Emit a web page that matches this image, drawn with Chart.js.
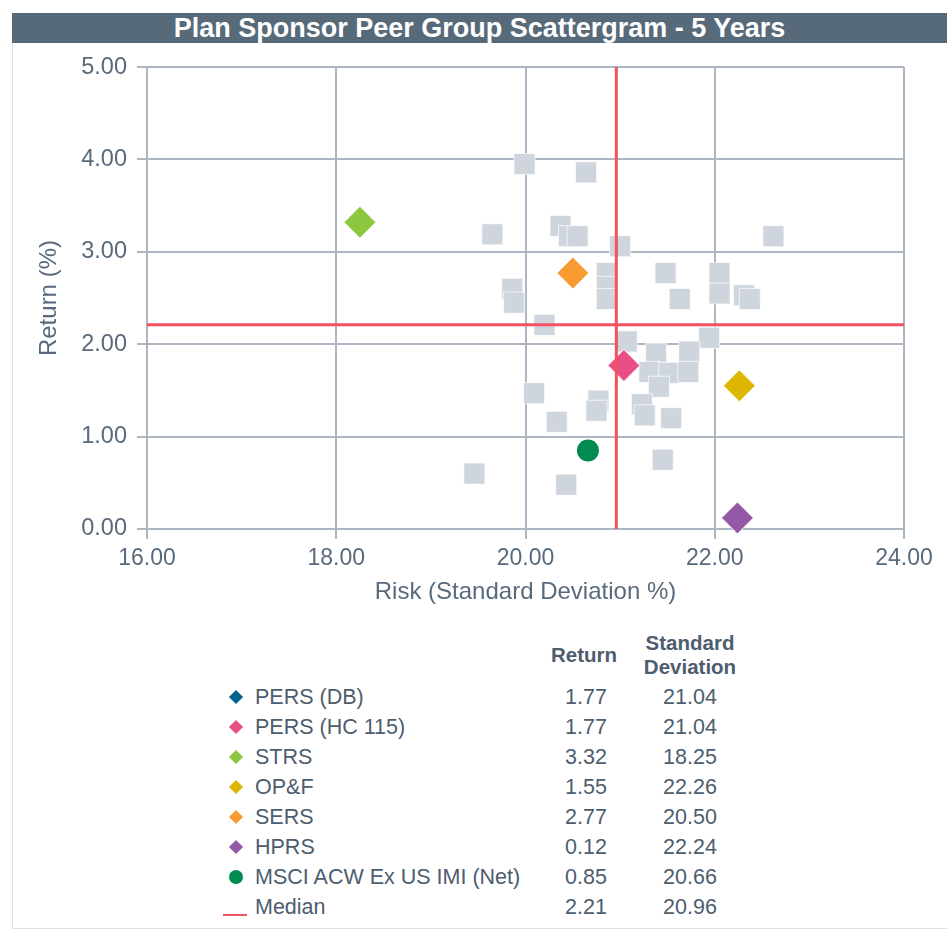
<!DOCTYPE html>
<html>
<head>
<meta charset="utf-8">
<script src="https://cdn.jsdelivr.net/npm/chart.js@4"></script>
<style>
  html, body { margin: 0; padding: 0; background: #fff; }
  body { width: 947px; height: 931px; position: relative; overflow: hidden;
         font-family: "Liberation Sans", Arial, sans-serif; color: #4d5d6e; }
  #frame { position: absolute; left: 12px; top: 43px; width: 935px; height: 885px;
           border-left: 1px solid #dcdfe2; border-bottom: 1px solid #dcdfe2; }
  #titlebar { position: absolute; left: 12px; top: 13px; width: 935px; height: 30px;
              background: #566a7a; color: #fff; font-weight: bold; font-size: 27px;
              line-height: 30px; text-align: center; }
  #chartbox { position: absolute; left: 0; top: 43px; width: 947px; height: 577px; }
  .cell { position: absolute; font-size: 21.5px; line-height: 24px; white-space: nowrap; }
  .hdr { position: absolute; font-size: 20.5px; font-weight: bold; line-height: 24px;
         text-align: center; white-space: nowrap; }
  .mk { position: absolute; width: 10px; height: 10px; transform: rotate(45deg); }
  .dot { position: absolute; width: 14px; height: 14px; border-radius: 50%; }
  .ln { position: absolute; width: 24px; height: 2px; }
</style>
</head>
<body>
<div id="frame"></div>
<div id="titlebar">Plan Sponsor Peer Group Scattergram - 5 Years</div>
<div id="chartbox"><canvas id="c" width="947" height="577"></canvas></div>
<div id="table"></div>
<script>
// Peer universe: risk (standard deviation %) and return (%)
const peerRisk = [19.99, 20.64, 19.65, 20.37, 20.46, 20.55, 21.00, 20.86, 20.86, 20.86,
                  19.86, 19.88, 20.20, 21.48, 21.63, 22.05, 22.05, 22.31, 22.37, 22.62,
                  21.07, 21.94, 21.38, 21.73, 21.31, 21.52, 21.72, 21.41, 21.23, 21.26,
                  21.54, 21.45, 20.09, 20.33, 20.77, 20.75, 20.43, 19.46];
const peerReturn = [3.95, 3.86, 3.19, 3.28, 3.17, 3.17, 3.06, 2.77, 2.62, 2.49,
                    2.60, 2.45, 2.21, 2.77, 2.49, 2.77, 2.55, 2.53, 2.49, 3.17,
                    2.03, 2.07, 1.90, 1.92, 1.70, 1.69, 1.70, 1.54, 1.35, 1.23,
                    1.20, 0.75, 1.47, 1.16, 1.39, 1.28, 0.48, 0.60];

// Highlighted plans and benchmark
const planNames   = ["PERS (DB)", "PERS (HC 115)", "STRS", "OP&F", "SERS", "HPRS", "MSCI ACW Ex US IMI (Net)"];
const planReturn  = [1.77, 1.77, 3.32, 1.55, 2.77, 0.12, 0.85];
const planRisk    = [21.04, 21.04, 18.25, 22.26, 20.50, 22.24, 20.66];
const planColors  = ["#00628f", "#e94f86", "#8dc63f", "#ddb600", "#f99b33", "#9558a7", "#008c50"];
const planShapes  = ["rectRot", "rectRot", "rectRot", "rectRot", "rectRot", "rectRot", "circle"];

// Peer group medians
const medianReturn = 2.21;
const medianRisk = 20.96;
const medianColor = "#f4525f";

// Axis ticks
const xTicks = [16, 18, 20, 22, 24];
const yTicks = [0, 1, 2, 3, 4, 5];

const textColor = "#586a7c";
const gridColor = "#adb6c2";

const datasets = [];
// medians drawn on top of everything
datasets.push({
  label: "Median return", type: "scatter", showLine: true, order: 0,
  data: [{x: xTicks[0], y: medianReturn}, {x: xTicks[xTicks.length - 1], y: medianReturn}],
  borderColor: medianColor, borderWidth: 3, pointRadius: 0, clip: false
});
datasets.push({
  label: "Median risk", type: "scatter", showLine: true, order: 0,
  data: [{x: medianRisk, y: yTicks[0]}, {x: medianRisk, y: yTicks[yTicks.length - 1]}],
  borderColor: medianColor, borderWidth: 3, pointRadius: 0, clip: false
});
// plans: later entries painted first so PERS (HC 115) sits over PERS (DB)
planNames.forEach((n, i) => {
  datasets.push({
    label: n, order: 10 - i,
    data: [{x: planRisk[i], y: planReturn[i]}],
    pointStyle: planShapes[i],
    pointRadius: planShapes[i] === "circle" ? 11 : 16,
    pointBackgroundColor: planColors[i],
    pointBorderColor: "#ffffff",
    pointBorderWidth: planShapes[i] === "circle" ? 0 : 1,
    clip: false
  });
});
// peers underneath
datasets.push({
  label: "Peers", order: 50,
  data: peerRisk.map((x, i) => ({x: x, y: peerReturn[i]})),
  pointStyle: "rect", pointRadius: 14.9,
  pointBackgroundColor: "#cfd5dd", pointBorderColor: "rgba(255,255,255,0.7)", pointBorderWidth: 1
});

new Chart(document.getElementById("c"), {
  type: "scatter",
  data: { datasets: datasets },
  options: {
    responsive: false, animation: false,
    layout: { padding: { left: 0, right: 43, top: 24, bottom: 0 } },
    plugins: { legend: { display: false }, tooltip: { enabled: false } },
    scales: {
      x: {
        type: "linear", min: xTicks[0], max: xTicks[xTicks.length - 1],
        afterBuildTicks: (s) => { s.ticks = xTicks.map(v => ({value: v})); },
        afterFit: (s) => { s.height = 91; },
        ticks: { color: textColor, font: { family: "Liberation Sans", size: 23 }, padding: 6,
                 maxRotation: 0, callback: (v) => Number(v).toFixed(2) },
        grid: { color: gridColor, lineWidth: 2, tickLength: 10, tickColor: gridColor },
        border: { color: gridColor, width: 2 },
        title: { display: true, text: "Risk (Standard Deviation %)", color: textColor,
                 font: { family: "Liberation Sans", size: 24 }, padding: { top: 0, bottom: 13 } }
      },
      y: {
        type: "linear", min: yTicks[0], max: yTicks[yTicks.length - 1],
        afterBuildTicks: (s) => { s.ticks = yTicks.map(v => ({value: v})); },
        afterFit: (s) => { s.width = 147; },
        ticks: { color: textColor, font: { family: "Liberation Sans", size: 23.5 }, padding: 10,
                 callback: (v) => Number(v).toFixed(2) },
        grid: { color: gridColor, lineWidth: 2, tickLength: 10, tickColor: gridColor },
        border: { color: gridColor, width: 2 },
        title: { display: true, text: "Return (%)", color: textColor,
                 font: { family: "Liberation Sans", size: 24 }, padding: { top: 35, bottom: 0 } }
      }
    }
  }
});

// Summary table below the chart
const tbl = document.getElementById("table");
function add(html) { tbl.insertAdjacentHTML("beforeend", html); }
add('<div class="hdr" style="left:538px;top:643px;width:92px;">Return</div>');
add('<div class="hdr" style="left:630px;top:631px;width:120px;">Standard<br>Deviation</div>');
const rowTop = 697, rowStep = 30;
planNames.forEach((n, i) => {
  const cy = rowTop + i * rowStep;
  if (planShapes[i] === "circle") {
    add(`<div class="dot" style="left:229px;top:${cy - 7}px;background:${planColors[i]}"></div>`);
  } else {
    add(`<div class="mk" style="left:231px;top:${cy - 5}px;background:${planColors[i]}"></div>`);
  }
  add(`<div class="cell" style="left:255px;top:${cy - 12}px;">${n.replace("&", "&amp;")}</div>`);
  add(`<div class="cell" style="left:540px;top:${cy - 12}px;width:92px;text-align:center;">${planReturn[i].toFixed(2)}</div>`);
  add(`<div class="cell" style="left:630px;top:${cy - 12}px;width:120px;text-align:center;">${planRisk[i].toFixed(2)}</div>`);
});
const my = rowTop + planNames.length * rowStep;
add(`<div class="ln" style="left:223px;top:${my + 7}px;background:${medianColor}"></div>`);
add(`<div class="cell" style="left:255px;top:${my - 12}px;">Median</div>`);
add(`<div class="cell" style="left:540px;top:${my - 12}px;width:92px;text-align:center;">${medianReturn.toFixed(2)}</div>`);
add(`<div class="cell" style="left:630px;top:${my - 12}px;width:120px;text-align:center;">${medianRisk.toFixed(2)}</div>`);
</script>
</body>
</html>
